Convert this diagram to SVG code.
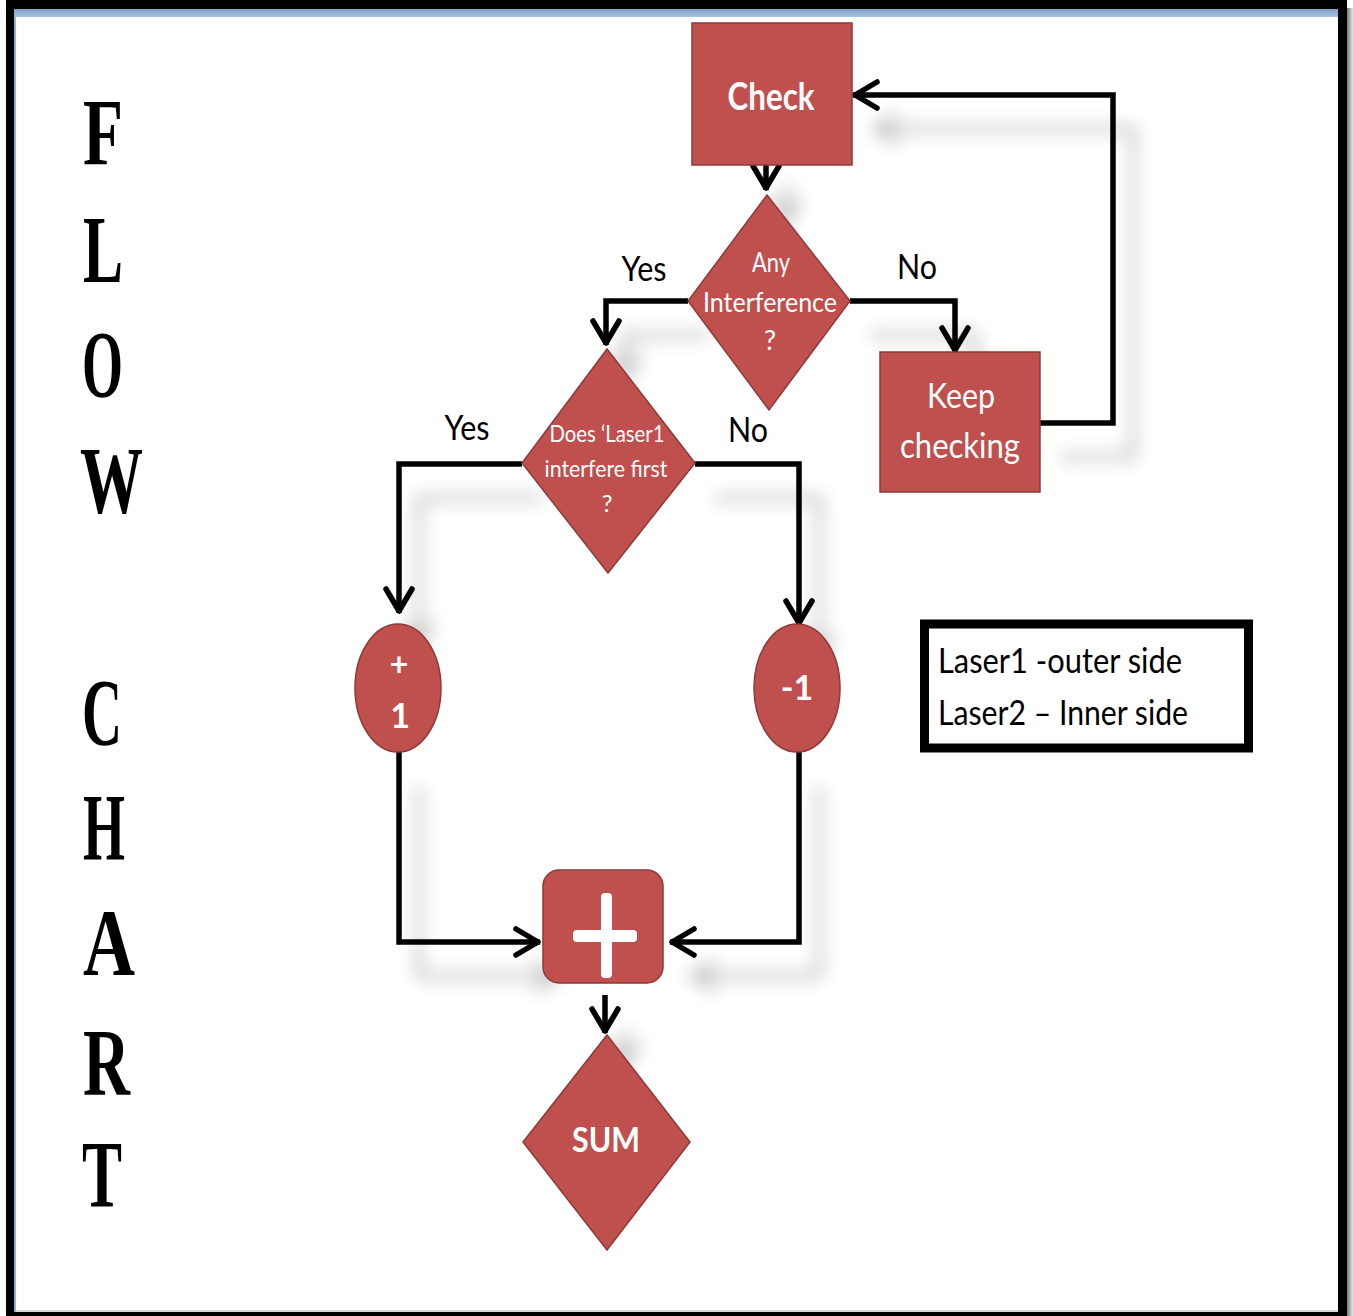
<svg xmlns="http://www.w3.org/2000/svg" width="1353" height="1316" viewBox="0 0 1353 1316">
<style>
.node{fill:#c0504d;stroke:#8e3a38;stroke-width:1.5}
.wt{fill:#ffffff;font-family:Lato,"Liberation Sans",sans-serif;text-anchor:middle}
.b{font-weight:bold}
.lbl{fill:#000;font-family:Lato,"Liberation Sans",sans-serif;font-size:34px;text-anchor:middle}
.leg{fill:#000;font-family:Lato,"Liberation Sans",sans-serif;font-size:35px}
.big{fill:#000;font-family:"Liberation Serif",serif;font-weight:bold;font-size:96px}
.con{fill:none;stroke:#000;stroke-width:5.5;stroke-linejoin:miter;marker-end:url(#arr)}
</style>
<defs>
<marker id="arr" markerUnits="userSpaceOnUse" markerWidth="40" markerHeight="40" viewBox="-30 -20 40 40" refX="0" refY="0" orient="auto" overflow="visible">
<path d="M-24,-13 L-2,0 L-24,13" fill="none" stroke="#000" stroke-width="5.5" stroke-linecap="round" stroke-linejoin="round"/>
</marker>
<filter id="sh" x="-20%" y="-20%" width="140%" height="140%">
<feGaussianBlur in="SourceAlpha" stdDeviation="9"/>
<feOffset dx="20" dy="34" result="o"/>
<feComponentTransfer><feFuncA type="linear" slope="0.3"/></feComponentTransfer>
<feMerge><feMergeNode/><feMergeNode in="SourceGraphic"/></feMerge>
</filter>
<linearGradient id="blue" x1="0" y1="0" x2="0" y2="1">
<stop offset="0" stop-color="#7f9fca"/><stop offset="1" stop-color="#a9c1e0"/>
</linearGradient>
<linearGradient id="gr" x1="0" y1="0" x2="1" y2="0">
<stop offset="0" stop-color="#7a7a7a"/><stop offset="1" stop-color="#e6e6e6"/>
</linearGradient>
</defs>

<g id="frame">
<rect x="0" y="0" width="1353" height="1316" fill="#ffffff"/>
<rect x="6" y="0" width="1341" height="1316" fill="#000"/>
<rect x="1347" y="8" width="6" height="1308" fill="url(#gr)"/>
<rect x="14" y="9" width="1324" height="1303" fill="#8fb0d8"/>
<rect x="16" y="17" width="1322" height="1295" fill="#ffffff"/>
<rect x="14" y="9" width="1324" height="8" fill="url(#blue)"/>
<rect x="16" y="1310" width="1322" height="2" fill="#d8d8d8"/>
</g>

<g id="title">
<text class="big" x="83" y="165" textLength="40" lengthAdjust="spacingAndGlyphs">F</text>
<text class="big" x="83" y="282" textLength="40" lengthAdjust="spacingAndGlyphs">L</text>
<text class="big" x="82" y="397" textLength="41" lengthAdjust="spacingAndGlyphs">O</text>
<text class="big" x="80" y="513" textLength="63" lengthAdjust="spacingAndGlyphs">W</text>
<text class="big" x="82" y="745" textLength="40" lengthAdjust="spacingAndGlyphs">C</text>
<text class="big" x="83" y="860" textLength="42" lengthAdjust="spacingAndGlyphs">H</text>
<text class="big" x="83" y="975" textLength="52" lengthAdjust="spacingAndGlyphs">A</text>
<text class="big" x="83" y="1095" textLength="47" lengthAdjust="spacingAndGlyphs">R</text>
<text class="big" x="82" y="1207" textLength="40" lengthAdjust="spacingAndGlyphs">T</text>
</g>

<g id="connectors" filter="url(#sh)">
<path class="con" d="M766,150 L766,190"/>
<path class="con" d="M850,301 L955,301 L955,352"/>
<path class="con" d="M1040,423 L1113,423 L1113,95 L853,95"/>
<path class="con" d="M688,301 L606,301 L606,345"/>
<path class="con" d="M522,464 L399,464 L399,613"/>
<path class="con" d="M695,464 L799,464 L799,625"/>
<path class="con" d="M399,752 L399,942 L540,942"/>
<path class="con" d="M799,752 L799,942 L670,942"/>
<path class="con" d="M605,995 L605,1033"/>
</g>

<g id="check">
<rect class="node" x="692" y="23" width="160" height="142"/>
<text class="wt b" x="771" y="110" font-size="38" textLength="87" lengthAdjust="spacingAndGlyphs">Check</text>
</g>

<g id="any-interference">
<polygon class="node" points="767,195 850,301 769,410 688,301"/>
<text class="wt" x="771" y="272" font-size="27" textLength="38" lengthAdjust="spacingAndGlyphs">Any</text>
<text class="wt" x="770" y="312" font-size="27" textLength="134" lengthAdjust="spacingAndGlyphs">Interference</text>
<text class="wt" x="770" y="350" font-size="27">?</text>
</g>

<g id="keep-checking">
<rect class="node" x="880" y="352" width="160" height="140"/>
<text class="wt" x="961" y="408" font-size="35" textLength="68" lengthAdjust="spacingAndGlyphs">Keep</text>
<text class="wt" x="960" y="458" font-size="35" textLength="120" lengthAdjust="spacingAndGlyphs">checking</text>
</g>

<g id="laser1-first">
<polygon class="node" points="607,349 695,463 608,573 522,463"/>
<text class="wt" x="607" y="442" font-size="24" textLength="115" lengthAdjust="spacingAndGlyphs">Does ‘Laser1</text>
<text class="wt" x="606" y="477" font-size="24" textLength="123" lengthAdjust="spacingAndGlyphs">interfere first</text>
<text class="wt" x="607" y="512" font-size="24">?</text>
</g>

<g id="plus-one">
<ellipse class="node" cx="398" cy="688" rx="43" ry="64"/>
<text class="wt b" x="399" y="676" font-size="32">+</text>
<text class="wt b" x="400" y="728" font-size="34">1</text>
</g>

<g id="minus-one">
<ellipse class="node" cx="797" cy="688" rx="43" ry="64"/>
<text class="wt b" x="797" y="700" font-size="34">-1</text>
</g>

<g id="adder">
<rect class="node" x="543" y="870" width="120" height="113" rx="16" ry="16"/>
<rect x="601" y="893" width="11" height="85" rx="4" fill="#ffffff"/>
<rect x="573" y="930" width="64" height="12" rx="4" fill="#ffffff"/>
</g>

<g id="sum">
<polygon class="node" points="607,1035 690,1142 607,1250 523,1142"/>
<text class="wt b" x="606" y="1152" font-size="34" textLength="68" lengthAdjust="spacingAndGlyphs">SUM</text>
</g>

<g id="labels">
<text class="lbl" x="644" y="281" textLength="45" lengthAdjust="spacingAndGlyphs">Yes</text>
<text class="lbl" x="917" y="279" textLength="40" lengthAdjust="spacingAndGlyphs">No</text>
<text class="lbl" x="467" y="440" textLength="45" lengthAdjust="spacingAndGlyphs">Yes</text>
<text class="lbl" x="748" y="442" textLength="40" lengthAdjust="spacingAndGlyphs">No</text>
</g>

<g id="legend">
<rect x="924.5" y="624" width="324" height="124" fill="#ffffff" stroke="#000" stroke-width="9"/>
<text class="leg" x="938" y="673" textLength="244" lengthAdjust="spacingAndGlyphs">Laser1 -outer side</text>
<text class="leg" x="938" y="725" textLength="250" lengthAdjust="spacingAndGlyphs">Laser2 – Inner side</text>
</g>
</svg>
